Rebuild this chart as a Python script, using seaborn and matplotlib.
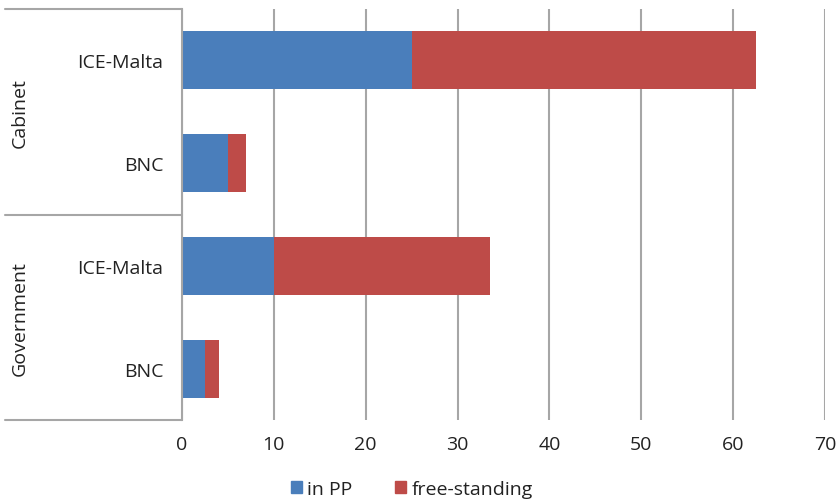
import pandas as pd
import numpy as np
import matplotlib
matplotlib.use("Agg")
import matplotlib.pyplot as plt
import seaborn as sns
from matplotlib.patches import Patch

# data
groups = ["Cabinet", "Cabinet", "Government", "Government"]
corpora = ["ICE-Malta", "BNC", "ICE-Malta", "BNC"]
in_pp = [25, 5, 10, 2.5]
free_standing = [37.5, 2, 23.5, 1.5]

df = pd.DataFrame({"group": groups, "corpus": corpora,
                   "in_pp": in_pp, "free": free_standing})
df["row"] = df["group"] + "|" + df["corpus"]
df["total"] = df["in_pp"] + df["free"]

blue = "#4a7ebb"
red = "#be4b48"
grey = "#a6a6a6"
txt = "#222222"

sns.set_style("white")
plt.rcParams["font.family"] = ["Open Sans", "DejaVu Sans"]

fig = plt.figure(figsize=(8.38, 5.02), dpi=100)
ax = fig.add_axes([182 / 838, 1 - 421 / 502, (825 - 182) / 838, (421 - 10) / 502])

sns.barplot(data=df, y="row", x="total", color=red, orient="h",
            width=0.565, saturation=1, linewidth=0, ax=ax)
sns.barplot(data=df, y="row", x="in_pp", color=blue, orient="h",
            width=0.565, saturation=1, linewidth=0, ax=ax)

ax.set_xlim(0, 70)
ax.set_ylim(3.5, -0.5)
ax.set_xticks(np.arange(0, 71, 10))
ax.set_xlabel("")
ax.set_ylabel("")
ax.set_yticks(range(4))
ax.set_yticklabels(corpora, fontsize=14, color=txt)
ax.tick_params(axis="y", length=0, pad=13.5)
ax.tick_params(axis="x", length=4, color=grey, width=1.5, labelsize=14,
               labelcolor=txt, pad=7)
ax.xaxis.grid(True, color=grey, linewidth=1.5)
ax.set_axisbelow(True)
for s in ["top", "right", "bottom"]:
    ax.spines[s].set_visible(False)
ax.spines["left"].set_color(grey)
ax.spines["left"].set_linewidth(1.5)

# multi-level category axis lines
x_left = (5 - 182) / (825 - 182)
for yv in [-0.5, 1.5, 3.5]:
    ax.plot([x_left, 0], [yv, yv], color=grey, lw=1.5, clip_on=False,
            transform=ax.get_yaxis_transform())
ax.text(x_left + 0.0225, 0.5, "Cabinet", rotation=90, ha="center", va="center",
        fontsize=14, color=txt, transform=ax.get_yaxis_transform())
ax.text(x_left + 0.0225, 2.5, "Government", rotation=90, ha="center", va="center",
        fontsize=14, color=txt, transform=ax.get_yaxis_transform())

handles = [Patch(color=blue, label="in PP"), Patch(color=red, label="free-standing")]
fig.legend(handles=handles, loc="center", bbox_to_anchor=(412 / 838, 1 - 490 / 502),
           ncol=2, frameon=False, fontsize=14, handlelength=0.55, handleheight=0.55,
           handletextpad=0.3, columnspacing=2.2, labelcolor=txt)

plt.savefig("out.png", dpi=100)
